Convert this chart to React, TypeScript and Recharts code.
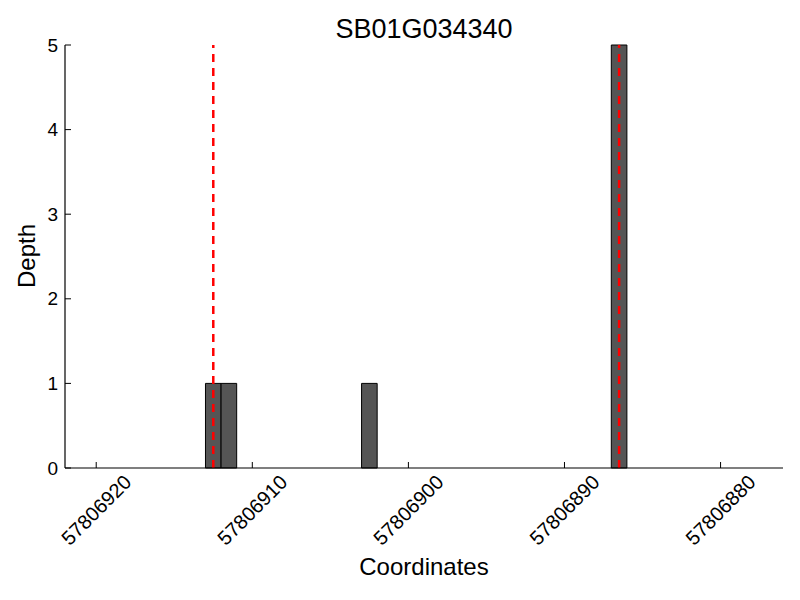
import React from 'react';
import { ComposedChart, Bar, XAxis, YAxis, ReferenceLine } from 'recharts';

const title = 'SB01G034340';

// bin centres (bins are 1 bp wide) and depth per bin
const binCenters = [57806912.5, 57806911.5, 57806902.5, 57806886.5];
const depths = [1, 1, 1, 5];

const xTicks = [57806920, 57806910, 57806900, 57806890, 57806880];
const yTicks = [0, 1, 2, 3, 4, 5];
const xDomain = [57806876, 57806922];

// red dashed markers
const markers = [57806912.5, 57806886.5];

const font = '"Liberation Sans", Arial, sans-serif';

const chartData = binCenters.map((x, i) => ({ x, depth: depths[i] }));

const XTick = (props: any) => {
  const { x, payload } = props;
  const cy = 510;
  return (
    <text
      x={x}
      y={cy}
      textAnchor="middle"
      dominantBaseline="central"
      fontSize={20}
      fontFamily={font}
      fill="#000"
      transform={`rotate(-45, ${x}, ${cy})`}
    >
      {payload.value}
    </text>
  );
};

const YTick = (props: any) => {
  const { y, payload } = props;
  return (
    <text x={58} y={y} textAnchor="end" dominantBaseline="central" fontSize={19} fontFamily={font} fill="#000">
      {payload.value}
    </text>
  );
};

export default function App() {
  return (
    <div style={{ position: 'absolute', left: 0, top: 0, width: 800, height: 600, background: '#fff', fontFamily: font }}>
      <div style={{ position: 'absolute', left: 65, width: 718, top: 14, textAlign: 'center', fontSize: 27, lineHeight: '30px' }}>
        {title}
      </div>
      <div
        style={{
          position: 'absolute',
          left: 27,
          top: 256,
          fontSize: 24,
          transform: 'translate(-50%, -50%) rotate(-90deg)',
          whiteSpace: 'nowrap',
        }}
      >
        Depth
      </div>
      <div style={{ position: 'absolute', left: 65, width: 718, top: 553, textAlign: 'center', fontSize: 24, lineHeight: '28px' }}>
        Coordinates
      </div>
      <ComposedChart
        width={800}
        height={600}
        data={chartData}
        margin={{ top: 45, right: 17, left: 0, bottom: 0 }}
        style={{ position: 'absolute', left: 0, top: 0 }}
      >
        <XAxis
          dataKey="x"
          type="number"
          domain={xDomain}
          allowDataOverflow
          reversed
          ticks={xTicks}
          interval={0}
          height={132}
          tickSize={-6}
          tickLine={{ stroke: '#000' }}
          axisLine={{ stroke: '#000', strokeWidth: 1.2 }}
          tick={<XTick />}
        />
        <YAxis
          type="number"
          domain={[0, 5]}
          ticks={yTicks}
          interval={0}
          width={65}
          tickSize={-6}
          tickLine={{ stroke: '#000' }}
          axisLine={{ stroke: '#000', strokeWidth: 1.2 }}
          tick={<YTick />}
        />
        <Bar dataKey="depth" fill="#555555" stroke="#000" strokeWidth={1} barSize={15.6} isAnimationActive={false} />
        {markers.map((m) => (
          <ReferenceLine key={m} x={m} stroke="#ff0000" strokeWidth={2.5} strokeDasharray="8 6" />
        ))}
      </ComposedChart>
    </div>
  );
}
